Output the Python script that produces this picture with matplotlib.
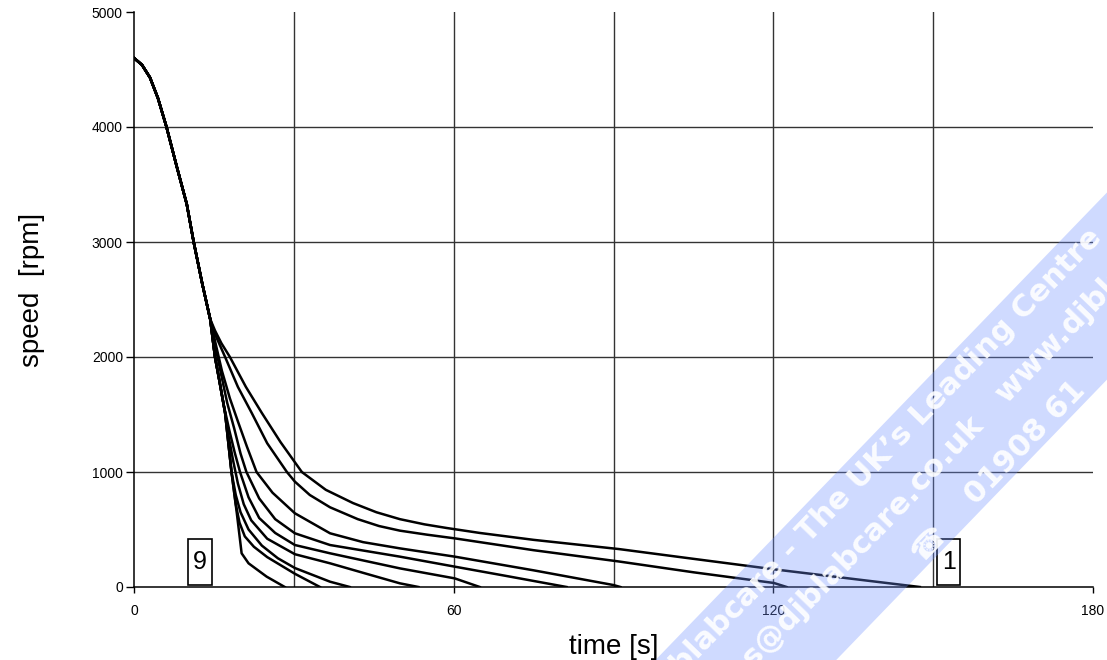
#!/usr/bin/env python3

import numpy as np
import matplotlib
matplotlib.use('Agg')
import matplotlib.pyplot as plt
from matplotlib.patches import Polygon, Rectangle

# Shared run-down from 4600 rpm (all nine curves overlap here)
head_t = [0, 1.5, 3.0, 4.5, 6.1, 8.0, 9.9, 11.2, 12.8, 14.3]
head_rpm = [4600, 4540, 4430, 4250, 4000, 3660, 3330, 3000, 2640, 2330]

# Individual tails, curve 1 (slowest) ... curve 9 (fastest)
c1_t = [15.2, 16.4, 18.0, 21.0, 24.0, 27.5, 31.5, 36.0, 41.1, 45.5, 49.9, 54.5, 58.7, 64.9, 75.0, 91.0, 105.0, 120.1, 135.0, 147.5]
c1_rpm = [2230, 2120, 2000, 1740, 1513, 1260, 1000, 845, 730, 650, 590, 545, 513, 470, 410, 330, 245, 154, 70, 0]

c2_t = [15.1, 17.1, 19.5, 22.1, 25.0, 28.7, 30.2, 33.0, 36.8, 42.0, 46.0, 49.9, 55.0, 60.2, 75.0, 91.0, 105.0, 120.1, 122.5]
c2_rpm = [2210, 2000, 1740, 1513, 1250, 1000, 916, 800, 693, 590, 530, 490, 455, 423, 320, 222, 128, 35, 0]

c3_t = [15.3, 16.5, 18.0, 19.5, 21.2, 23.0, 26.0, 30.2, 36.8, 43.0, 49.9, 60.2, 75.0, 90.0, 91.3]
c3_rpm = [2120, 1880, 1640, 1440, 1220, 1000, 820, 641, 467, 390, 336, 264, 145, 17, 0]

c4_t = [15.2, 16.3, 17.5, 18.8, 20.0, 21.1, 23.5, 26.5, 30.2, 36.8, 49.9, 60.2, 70.0, 81.2]
c4_rpm = [2110, 1860, 1600, 1380, 1160, 1000, 770, 590, 467, 365, 264, 177, 95, 0]

c5_t = [15.2, 16.0, 16.9, 17.9, 18.9, 19.9, 21.5, 23.5, 26.5, 30.2, 36.8, 49.9, 60.2, 64.9]
c5_rpm = [2000, 1800, 1570, 1360, 1170, 1000, 780, 600, 470, 365, 293, 162, 75, 0]

c6_t = [15.2, 16.0, 17.1, 17.8, 18.6, 19.5, 20.6, 22.0, 25.0, 30.2, 36.8, 44.0, 49.9, 53.4]
c6_rpm = [2000, 1800, 1513, 1300, 1100, 900, 720, 580, 420, 285, 206, 110, 32, 0]

c7_t = [15.2, 16.0, 17.1, 18.3, 19.1, 20.0, 21.5, 24.0, 27.0, 30.2, 36.8, 40.5]
c7_rpm = [2000, 1800, 1513, 1000, 800, 650, 500, 360, 250, 165, 46, 0]

c8_t = [15.2, 16.0, 17.1, 18.3, 19.1, 19.8, 20.8, 22.5, 25.0, 30.2, 34.9]
c8_rpm = [2000, 1800, 1513, 1000, 720, 560, 440, 350, 260, 115, 0]

c9_t = [15.2, 16.0, 17.1, 18.3, 19.3, 20.2, 21.5, 24.9, 28.3]
c9_rpm = [2000, 1800, 1513, 1000, 641, 293, 206, 90, 0]

tails_t = [c1_t, c2_t, c3_t, c4_t, c5_t, c6_t, c7_t, c8_t, c9_t]
tails_rpm = [c1_rpm, c2_rpm, c3_rpm, c4_rpm, c5_rpm, c6_rpm, c7_rpm, c8_rpm, c9_rpm]

# Curve number tags
tag_text = ['9', '1']
tag_t = [12.4, 152.9]
tag_rpm = [220, 220]

x_ticks = [0, 60, 120, 180]
y_ticks = [0, 1000, 2000, 3000, 4000, 5000]
x_grid = [30, 60, 90, 120, 150]
y_grid = [1000, 2000, 3000, 4000]

W, H = 1107, 660

plt.rcParams['font.family'] = ['Liberation Sans', 'DejaVu Sans']

fig = plt.figure(figsize=(W / 100, H / 100), dpi=100)
ax = fig.add_axes([134 / W, 1 - 587 / H, (1093 - 134) / W, (587 - 12) / H])

for t_tail, r_tail in zip(tails_t, tails_rpm):
    ax.plot(head_t + t_tail, head_rpm + r_tail, color='black', linewidth=1.8,
            solid_joinstyle='round', zorder=3)

ax.set_xlim(0, 180)
ax.set_ylim(0, 5000)
ax.set_xticks(x_ticks)
ax.set_yticks(y_ticks)

# Grid (Excel style: every 30 s, labels every 60 s); keep minor locs that overlap majors
ax.xaxis.remove_overlapping_locs = False
ax.yaxis.remove_overlapping_locs = False
ax.set_xticks(x_grid, minor=True)
ax.set_yticks(y_grid, minor=True)
ax.grid(True, which='minor', color='#333333', linewidth=1.0)
ax.tick_params(which='minor', length=0)
ax.set_axisbelow(True)

ax.tick_params(axis='x', which='major', direction='out', length=4, width=1, pad=8.5, labelsize=10)
ax.tick_params(axis='y', which='major', direction='out', length=6, width=1, pad=2, labelsize=10)

for side in ['top', 'right']:
    ax.spines[side].set_visible(False)
for side in ['left', 'bottom']:
    ax.spines[side].set_linewidth(1.1)

ax.set_xlabel('time [s]', fontsize=20, va='top')
ax.xaxis.set_label_coords(0.5, -0.082)
ax.set_ylabel('speed  [rpm]', fontsize=20)
ax.yaxis.set_label_coords(-0.093, 0.516)

# Boxed curve numbers
for s, tx, ry in zip(tag_text, tag_t, tag_rpm):
    ax.add_patch(Rectangle((tx - 2.2, 17), 4.4, 398, facecolor='white',
                           edgecolor='black', linewidth=1.2, zorder=4))
    ax.text(tx, ry, s, fontsize=18, ha='center', va='center', zorder=5)

# Watermark band over the lower right
theta = np.deg2rad(46)
d = np.array([np.cos(theta), -np.sin(theta)])
n = np.array([np.sin(theta), np.cos(theta)])
band = []
for c, s in [(930, -2000), (930, 2000), (1060, 2000), (1060, -2000)]:
    p = c * n + s * d
    band.append((p[0] / W, 1 - p[1] / H))
fig.patches.append(Polygon(band, closed=True, transform=fig.transFigure,
                           facecolor='#6f8fff', edgecolor='none', alpha=0.33, zorder=10))

wm = dict(rotation=46, rotation_mode='anchor', va='center', color='white',
          fontweight='bold', fontsize=22, family='DejaVu Sans', alpha=0.9, zorder=11)
fig.text(803 / W, 1 - 538 / H, 'djblabcare - ', ha='right', **wm)
fig.text(803 / W, 1 - 538 / H, "The UK\u2019s Leading Centre", ha='left', **wm)
fig.text(915 / W, 1 - 488 / H, 'sales@djblabcare.', ha='right', **wm)
fig.text(915 / W, 1 - 488 / H, 'co.uk   www.djblabcare.co.uk', ha='left', **wm)
fig.text(970 / W, 1 - 500 / H, '01908 61', ha='left', **wm)
fig.text(929 / W, 1 - 543 / H, '\u260e', ha='center', rotation=46, rotation_mode='anchor',
         va='center', color='white', fontsize=22, family='DejaVu Sans', alpha=0.9, zorder=11)

fig.savefig('out.png', dpi=100)
plt.close(fig)
